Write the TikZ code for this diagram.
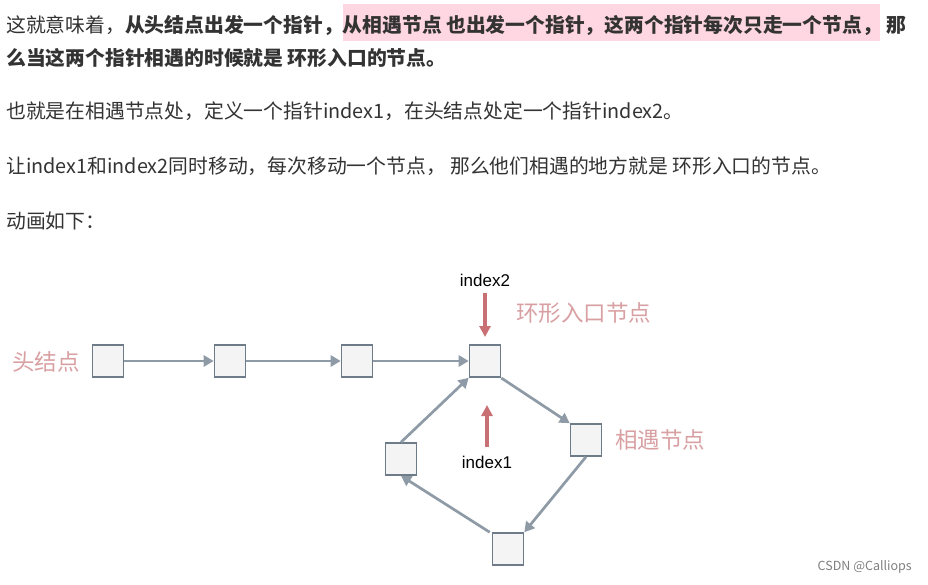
\documentclass[tikz,border=0pt]{standalone}
\usepackage{fontspec}
\setmainfont{Noto Sans CJK SC}
\newfontfamily\latinsans{Liberation Sans}
\usetikzlibrary{arrows.meta}
\definecolor{txt}{HTML}{333333}
\definecolor{hl}{HTML}{FFD7E2}
\definecolor{boxfill}{HTML}{F4F4F5}
\definecolor{boxline}{HTML}{6E7B88}
\definecolor{edge}{HTML}{8E9BA6}
\definecolor{lbl}{HTML}{D9A0A3}
\definecolor{ptr}{HTML}{C87074}
\tikzset{
  para/.style={anchor=west,inner sep=0pt,text=txt,font=\fontsize{19.8}{22}\selectfont},
  lnode/.style={draw=boxline,fill=boxfill,line width=1.6pt,minimum width=31pt,minimum height=32pt,inner sep=0pt},
  link/.style={draw=edge,line width=2.7pt,-{Triangle[length=10pt,width=11pt]}},
  ptrarrow/.style={draw=ptr,line width=3.5pt,-{Triangle[length=11pt,width=11pt]}},
  cn/.style={text=lbl,font=\fontsize{22.5}{26}\selectfont,inner sep=0pt},
  idx/.style={font=\latinsans\fontsize{17}{20}\selectfont,inner sep=0pt}
}
\begin{document}
\begin{tikzpicture}[x=1pt,y=-1pt]
\useasboundingbox (0,0) rectangle (928,584);
\fill[white] (0,0) rectangle (928,584);
\fill[hl] (343,4) rectangle (880,41);
\node[para] (l1) at (6,25) {这就意味着，\textbf{从头结点出发一个指针，从相遇节点 也出发一个指针，这两个指针每次只走一个节点，\ 那}};
\node[para] (l2) at (6,58) {\textbf{么当这两个指针相遇的时候就是 环形入口的节点。}};
\node[para] (l3) at (6,111) {也就是在相遇节点处，定义一个指针index1，在头结点处定一个指针index2。};
\node[para] (l4) at (6,166) {让index1和index2同时移动，每次移动一个节点， 那么他们相遇的地方就是 环形入口的节点。};
\node[para] (l5) at (6,221) {动画如下：};

\node[lnode] (n1) at (108,361) {};
\node[lnode] (n2) at (230,361) {};
\node[lnode] (n3) at (357,361) {};
\node[lnode] (n4) at (485,361) {};
\node[lnode] (n5) at (586,440) {};
\node[lnode] (n6) at (508,549) {};
\node[lnode] (n7) at (401,459) {};
\draw[link] (n1) -- (n2);
\draw[link] (n2) -- (n3);
\draw[link] (n3) -- (n4);
\draw[link] (n4.east |- 0,378) -- (n5.north west);
\draw[link] (n5.south) -- (n6.north east);
\draw[link] (n6.north west) ++(-2,0) coordinate (s6) (s6) -- (n7.south);
\draw[link] (n7.north) -- (n4.south west);

\node[cn] (head) at (46,362) {头结点};
\node[cn,anchor=west] (entry) at (516,313) {环形入口节点};
\node[cn,anchor=west] (meet) at (615,440) {相遇节点};
\node[idx] (i2) at (485,280) {index2};
\node[idx] (i1) at (487,462) {index1};
\coordinate (i2s) at (485,293);
\coordinate (i2e) at (485,337);
\coordinate (i1s) at (487,447);
\coordinate (i1e) at (487,405);
\draw[ptrarrow] (i2s) -- (i2e);
\draw[ptrarrow] (i1s) -- (i1e);
\node[anchor=east,text=gray,font=\fontsize{12.5}{14}\selectfont,inner sep=0pt] (wm) at (912,567) {CSDN @Calliops};
\end{tikzpicture}
\end{document}
